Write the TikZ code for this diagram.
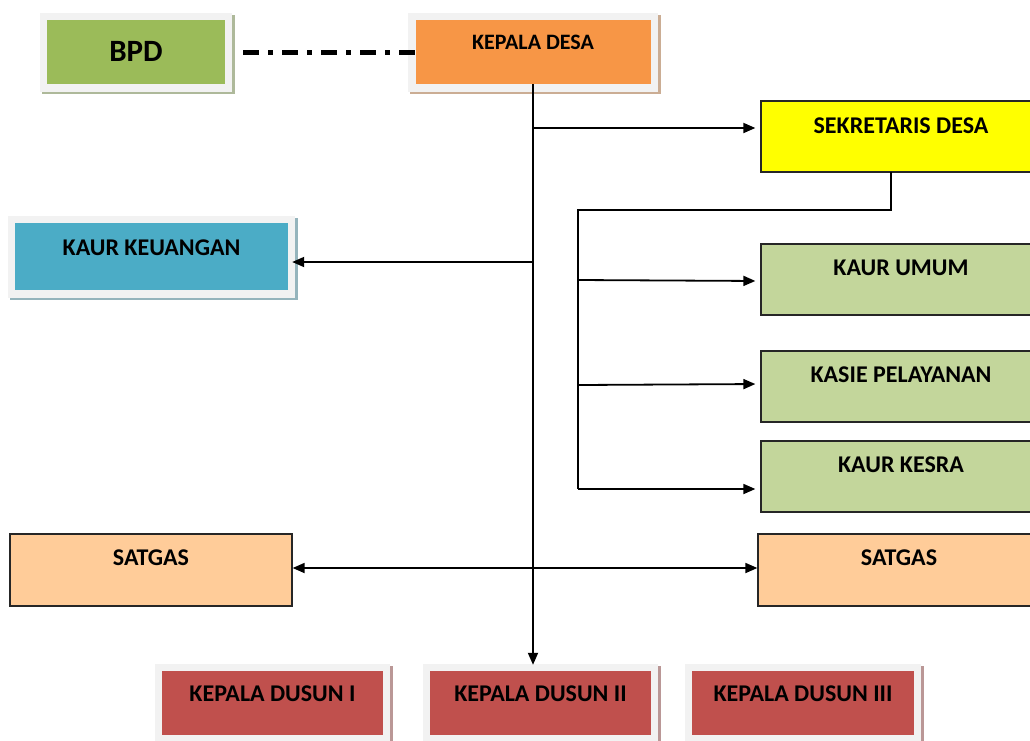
\documentclass[tikz,border=0pt]{standalone}
\usepackage{fontspec}
\setmainfont{Carlito}
\usetikzlibrary{arrows.meta}
\usetikzlibrary{backgrounds}

\definecolor{hijauBPD}{HTML}{9BBB59}
\definecolor{oranye}{HTML}{F79646}
\definecolor{biru}{HTML}{4BACC6}
\definecolor{kuning}{HTML}{FFFF00}
\definecolor{hijauMuda}{HTML}{C3D69B}
\definecolor{persik}{HTML}{FFCC99}
\definecolor{merah}{HTML}{C0504D}
\definecolor{bingkai}{HTML}{F2F2F2}

\tikzset{
  kotak/.style={rectangle, inner sep=0pt, text=black, font=\bfseries\fontsize{24}{28}\selectfont},
  garis/.style={draw=black!85, line width=1.3pt},
  panah/.style={line width=1.8pt, -{Triangle[length=12pt,width=10pt]}},
}

\begin{document}
\begin{tikzpicture}[x=1pt,y=-1pt]
        \useasboundingbox (0,0) rectangle (1030,740);
        % bagan atas
        \node[kotak, fill=hijauBPD, minimum width=178pt, text height=41pt, text depth=23pt, font=\bfseries\fontsize{31}{34}\selectfont] (bpd) at (136,52) {BPD};
        \node[kotak, fill=oranye, minimum width=235pt, text height=29pt, text depth=35pt, font=\bfseries\fontsize{22}{26}\selectfont] (desa) at (533,52) {KEPALA DESA};
        \node[kotak, garis, fill=kuning, minimum width=280pt, text height=32pt, text depth=39pt] (sekdes) at (901,136.5) {SEKRETARIS DESA};
        \node[kotak, fill=biru, minimum width=273pt, text height=32pt, text depth=35pt] (keu) at (151.5,256.5) {KAUR KEUANGAN};
        % kaur dan kasie
        \node[kotak, garis, fill=hijauMuda, minimum width=280pt, text height=31pt, text depth=40pt] (umum) at (901,279.5) {KAUR UMUM};
        \node[kotak, garis, fill=hijauMuda, minimum width=280pt, text height=31pt, text depth=40pt] (kasie) at (901,386.5) {KASIE PELAYANAN};
        \node[kotak, garis, fill=hijauMuda, minimum width=280pt, text height=31pt, text depth=40pt] (kesra) at (901,476.5) {KAUR KESRA};
        \node[kotak, garis, fill=persik, minimum width=282pt, text height=31pt, text depth=41pt] (satgasL) at (151,570) {SATGAS};
        \node[kotak, garis, fill=persik, minimum width=282pt, text height=31pt, text depth=41pt] (satgasR) at (899,570) {SATGAS};
        % dusun
        \node[kotak, fill=merah, minimum width=221pt, text height=30pt, text depth=34pt] (dus1) at (272.5,703) {KEPALA DUSUN I};
        \node[kotak, fill=merah, minimum width=221pt, text height=30pt, text depth=34pt] (dus2) at (540.5,703) {KEPALA DUSUN II};
        \node[kotak, fill=merah, minimum width=222pt, text height=30pt, text depth=34pt] (dus3) at (803,703) {KEPALA DUSUN III};

        \begin{scope}[on background layer]
        \foreach \n/\c in {bpd/hijauBPD, desa/oranye, keu/biru, dus1/merah, dus2/merah, dus3/merah}{
          \fill[\c!45!gray!70] ([shift={(-5,-5)}]\n.north west) rectangle ([shift={(10,10)}]\n.south east);
          \fill[bingkai] ([shift={(-7,-7)}]\n.north west) rectangle ([shift={(7,8)}]\n.south east);
        }
        \end{scope}

        \coordinate (t1) at (533,128);
        \coordinate (t2) at (533,262);
        \coordinate (s0) at (891,172);
        \coordinate (s1) at (578,210);
        \coordinate (s2) at (578,280);
        \coordinate (s3) at (578,385);
        \coordinate (s4) at (578,489);

        \draw[line width=5pt, dash pattern=on 16pt off 9pt on 5pt off 9pt, shorten <=18pt] (bpd.east) -- (desa.west);
        \draw[panah] (desa.south) -- ([yshift=6pt]desa.south |- dus2.north);
        \draw[panah, shorten >=5pt] (t1) -- (sekdes.west |- t1);
        \draw[panah, shorten >=4pt] (t2) -- (keu.east |- t2);
        \draw[panah, {Triangle[length=12pt,width=10pt]}-{Triangle[length=12pt,width=10pt]}] ([yshift=2pt]satgasL.east) -- ([yshift=2pt]satgasR.west);
        \draw[line width=1.8pt] (s0) -- (s0 |- s1) -- (s1) -- (s4);
        \draw[panah, shorten >=5pt] (s2) -- ([yshift=-1pt]umum.west |- s2);
        \draw[panah, shorten >=5pt] (s3) -- ([yshift=1pt]kasie.west |- s3);
        \draw[panah, shorten >=5pt] (s4) -- (kesra.west |- s4);
\end{tikzpicture}
\end{document}
